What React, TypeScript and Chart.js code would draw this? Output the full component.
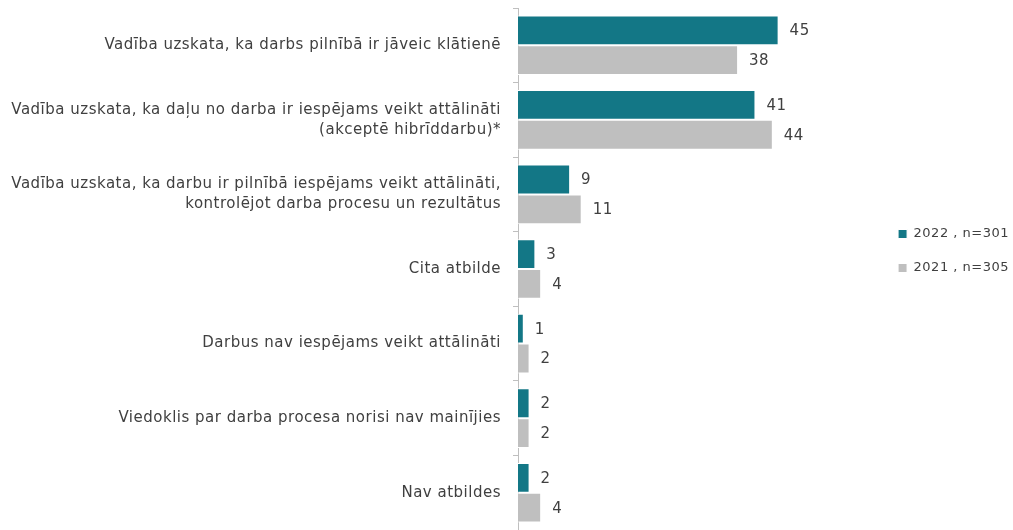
import React, { useEffect, useRef } from "react";
import { Chart, registerables } from "chart.js";

Chart.register(...registerables);

const categories: (string | string[])[] = [
  "Vadība uzskata, ka darbs pilnībā ir jāveic klātienē",
  ["Vadība uzskata, ka daļu no darba ir iespējams veikt attālināti", "(akceptē hibrīddarbu)*"],
  ["Vadība uzskata, ka darbu ir pilnībā iespējams veikt attālināti,", "kontrolējot darba procesu un rezultātus"],
  "Cita atbilde",
  "Darbus nav iespējams veikt attālināti",
  "Viedoklis par darba procesa norisi nav mainījies",
  "Nav atbildes",
];
const series2022 = [45, 41, 9, 3, 1, 2, 2];
const series2021 = [38, 44, 11, 4, 2, 2, 4];
const seriesLabels = ["2022 , n=301", "2021 , n=305"];

const FONT = "'DejaVu Sans', sans-serif";
const SPACING = "0.5px";

const textStyle = {
  id: "textStyle",
  beforeDraw(chart: any) {
    chart.ctx.letterSpacing = SPACING;
  },
};

const legendShift = {
  id: "legendShift",
  afterLayout(chart: any) {
    const lg = chart.legend;
    if (lg) {
      lg.top -= 18;
      lg.bottom -= 18;
    }
  },
};

const valueLabels = {
  id: "valueLabels",
  afterDatasetsDraw(chart: any) {
    const ctx = chart.ctx;
    ctx.save();
    ctx.letterSpacing = SPACING;
    ctx.font = `15px ${FONT}`;
    ctx.fillStyle = "#404040";
    ctx.textAlign = "left";
    ctx.textBaseline = "middle";
    chart.data.datasets.forEach((ds: any, di: number) => {
      const meta = chart.getDatasetMeta(di);
      meta.data.forEach((bar: any, i: number) => {
        ctx.fillText(String(ds.data[i]), bar.x + 11, bar.y + 1);
      });
    });
    ctx.restore();
  },
};

export default function App() {
  const ref = useRef<HTMLCanvasElement>(null);
  useEffect(() => {
    const chart = new Chart(ref.current!, {
      type: "bar",
      data: {
        labels: categories,
        datasets: [
          { label: seriesLabels[0], data: series2022, backgroundColor: "#137786", borderColor: "#ffffff", borderWidth: 1, barPercentage: 1, categoryPercentage: 0.8 },
          { label: seriesLabels[1], data: series2021, backgroundColor: "#bfbfbf", borderColor: "#ffffff", borderWidth: 1, barPercentage: 1, categoryPercentage: 0.8 },
        ],
      },
      options: {
        indexAxis: "y",
        animation: false,
        responsive: false,
        layout: { padding: { top: 8, bottom: 0, left: 0, right: 0 } },
        scales: {
          x: { display: false, min: 0, max: 62 },
          y: {
            afterFit: (scale: any) => {
              scale.width = 518;
              scale.paddingTop = 0;
              scale.paddingBottom = 0;
            },
            border: { display: true, color: "#bfbfbf", width: 1 },
            grid: { display: true, drawOnChartArea: false, tickLength: 5, color: "#bfbfbf" },
            ticks: { color: "#404040", font: { family: FONT, size: 15, lineHeight: 1.35 }, padding: 12 },
          },
        },
        plugins: {
          legend: {
            position: "right",
            align: "center",
            labels: { boxWidth: 9, boxHeight: 9, color: "#404040", font: { family: FONT, size: 13 }, padding: 21 },
          },
          tooltip: { enabled: false },
        },
      },
      plugins: [textStyle, legendShift, valueLabels],
    });
    return () => chart.destroy();
  }, []);
  return (
    <canvas
      ref={ref}
      width={1013}
      height={530}
      style={{ position: "absolute", left: 0, top: 0, width: 1013, height: 530 }}
    />
  );
}
